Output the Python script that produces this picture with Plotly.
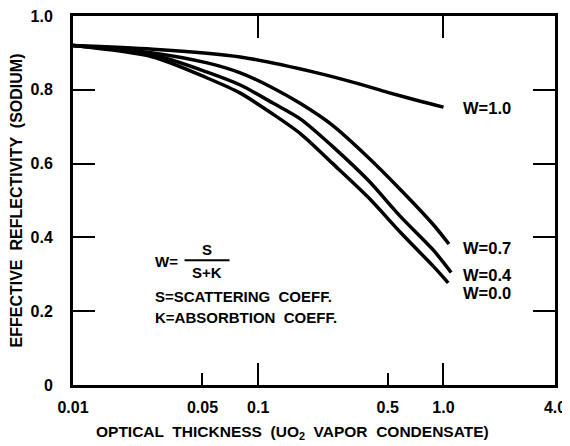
import math
import plotly.graph_objects as go

# Optical thickness sample points (log axis)
thick_w10 = [0.01, 0.027, 0.08, 0.208, 0.35, 0.5, 0.75, 1.0]
refl_w10 = [0.92, 0.910, 0.889, 0.846, 0.816, 0.793, 0.769, 0.753]

thick_w07 = [0.01, 0.027, 0.053, 0.08, 0.12, 0.17, 0.25, 0.39, 0.59, 0.88, 1.07]
refl_w07 = [0.92, 0.900, 0.873, 0.846, 0.805, 0.762, 0.705, 0.618, 0.528, 0.435, 0.382]

thick_w04 = [0.01, 0.027, 0.053, 0.08, 0.12, 0.17, 0.25, 0.39, 0.59, 0.88, 1.10]
refl_w04 = [0.92, 0.895, 0.848, 0.813, 0.764, 0.720, 0.648, 0.556, 0.455, 0.366, 0.305]

thick_w00 = [0.01, 0.027, 0.053, 0.08, 0.12, 0.17, 0.25, 0.39, 0.59, 0.88, 1.06]
refl_w00 = [0.92, 0.889, 0.832, 0.791, 0.734, 0.680, 0.602, 0.510, 0.412, 0.322, 0.277]

series_labels = ["W=1.0", "W=0.7", "W=0.4", "W=0.0"]
label_y = [0.751, 0.371, 0.298, 0.249]

x_tick_vals = [0.01, 0.05, 0.1, 0.5, 1.0, 4.0]
x_tick_text = ["0.01", "0.05", "0.1", "0.5", "1.0", "4.0"]
x_short_ticks = [0.05, 0.5]
x_long_ticks = [0.1, 1.0]
y_tick_vals = [0, 0.2, 0.4, 0.6, 0.8, 1.0]
y_tick_text = ["0", "0.2", "0.4", "0.6", "0.8", "1.0"]

x_title = "OPTICAL  THICKNESS  (UO<sub>2</sub>  VAPOR  CONDENSATE)"
y_title = "EFFECTIVE  REFLECTIVITY  (SODIUM)"

FONT = "Liberation Sans"
BOLD = "bold"

fig = go.Figure()
for xs, ys in [(thick_w10, refl_w10), (thick_w07, refl_w07),
               (thick_w04, refl_w04), (thick_w00, refl_w00)]:
    fig.add_trace(go.Scatter(x=xs, y=ys, mode="lines",
                             line=dict(color="black", width=3.5, shape="spline", smoothing=0.8),
                             showlegend=False, hoverinfo="skip"))

xr = [math.log10(0.01), math.log10(4.0)]

# the page body has an 8px margin, so the figure is sized/offset to compensate
fig.update_layout(
    width=562, height=438,
    margin=dict(l=65, r=15, t=8, b=61, autoexpand=False),
    paper_bgcolor="white", plot_bgcolor="white",
    font=dict(family=FONT, color="black"),
    xaxis=dict(type="log", range=xr, tickvals=x_tick_vals, ticktext=x_tick_text,
               ticks="", showline=True, linewidth=3, linecolor="black", mirror=True,
               showgrid=False, zeroline=False, automargin=False, ticklabelstandoff=6,
               ticklabeloverflow="allow",
               tickfont=dict(size=16, family=FONT, weight=BOLD)),
    xaxis2=dict(type="log", range=xr, overlaying="x", anchor="y", side="bottom",
                tickvals=x_short_ticks, ticks="inside", ticklen=12, tickwidth=2,
                tickcolor="black", showticklabels=False, showgrid=False,
                showline=False, zeroline=False, automargin=False),
    xaxis3=dict(type="log", range=xr, overlaying="x", anchor="y", side="bottom",
                tickvals=x_long_ticks, ticks="inside", ticklen=22, tickwidth=2,
                tickcolor="black", showticklabels=False, showgrid=False,
                showline=False, zeroline=False, mirror="ticks", automargin=False),
    yaxis=dict(range=[0, 1.0], tickvals=y_tick_vals, ticktext=y_tick_text,
               ticks="inside", ticklen=22, tickwidth=2, tickcolor="black",
               showline=True, linewidth=3, linecolor="black", mirror="ticks",
               showgrid=False, zeroline=False, ticklabelstandoff=14, automargin=False,
               ticklabeloverflow="allow",
               tickfont=dict(size=16, family=FONT, weight=BOLD),
               title=dict(text=y_title,
                          font=dict(size=16, family=FONT, weight=BOLD), standoff=6)),
)

# x-axis title, placed slightly left of the plot centre as in the original
fig.add_annotation(x=0.456, y=-0.130, xref="paper", yref="paper", text=x_title,
                   showarrow=False, xanchor="center", yanchor="middle",
                   font=dict(size=15.5, family=FONT, weight=BOLD))

# invisible traces bound to the overlay tick axes
fig.add_trace(go.Scatter(x=[x_short_ticks[0]], y=[None], xaxis="x2", showlegend=False, hoverinfo="skip"))
fig.add_trace(go.Scatter(x=[x_long_ticks[0]], y=[None], xaxis="x3", showlegend=False, hoverinfo="skip"))

for lab, ly in zip(series_labels, label_y):
    fig.add_annotation(x=math.log10(1.24), y=ly, xref="x", yref="y", text=lab,
                       showarrow=False, xanchor="left", yanchor="middle",
                       font=dict(size=16.5, family=FONT, weight=BOLD))

# formula block
fx = math.log10(0.027)
fig.add_annotation(x=fx, y=0.336, xref="x", yref="y", text="W=", showarrow=False,
                   xanchor="left", yanchor="middle", font=dict(size=15, family=FONT, weight=BOLD))
fig.add_annotation(x=math.log10(0.053), y=0.366, xref="x", yref="y", text="S", showarrow=False,
                   xanchor="center", yanchor="middle", font=dict(size=15, family=FONT, weight=BOLD))
fig.add_annotation(x=math.log10(0.053), y=0.305, xref="x", yref="y", text="S+K", showarrow=False,
                   xanchor="center", yanchor="middle", font=dict(size=15, family=FONT, weight=BOLD))
fig.add_shape(type="line", xref="x", yref="y", x0=0.040, x1=0.070, y0=0.338, y1=0.338,
              line=dict(color="black", width=2))
fig.add_annotation(x=fx, y=0.241, xref="x", yref="y", text="S=SCATTERING  COEFF.",
                   showarrow=False, xanchor="left", yanchor="middle",
                   font=dict(size=15, family=FONT, weight=BOLD))
fig.add_annotation(x=fx, y=0.182, xref="x", yref="y", text="K=ABSORBTION  COEFF.",
                   showarrow=False, xanchor="left", yanchor="middle",
                   font=dict(size=15, family=FONT, weight=BOLD))

fig.write_html("out.html")
